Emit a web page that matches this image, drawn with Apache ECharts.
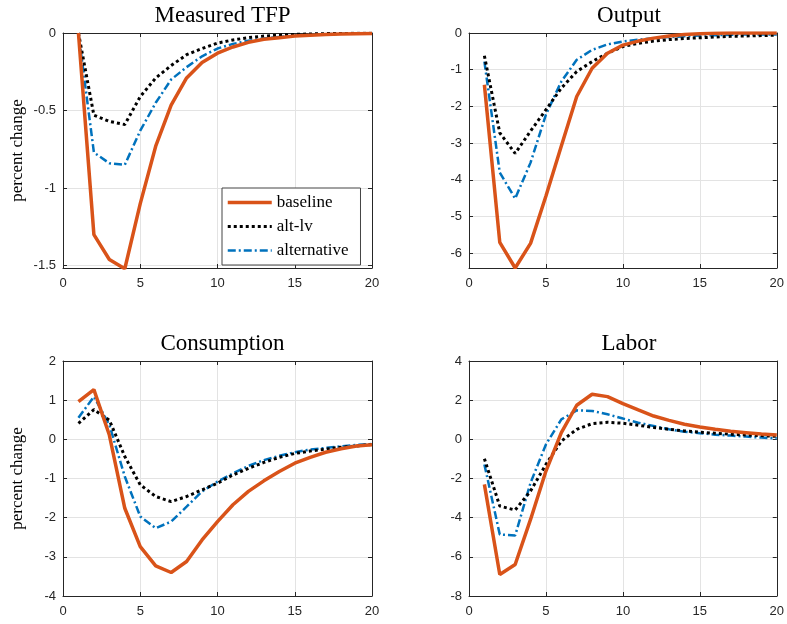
<!DOCTYPE html>
<html>
<head>
<meta charset="utf-8">
<script src="https://cdn.jsdelivr.net/npm/echarts@6/dist/echarts.min.js"></script>
<style>
  html, body { margin: 0; padding: 0; background: #fff; }
  #main { width: 787px; height: 624px; }
</style>
</head>
<body>
<div id="main"></div>
<script>
// periods after the shock
var steps = [1,2,3,4,5,6,7,8,9,10,11,12,13,14,15,16,17,18,19,20];
var seriesNames = ['baseline', 'alt-lv', 'alternative'];
var panelTitles = ['Measured TFP', 'Output', 'Consumption', 'Labor'];

// Measured TFP
var tfpBaseline = [0,-1.30,-1.46,-1.52,-1.10,-0.73,-0.465,-0.29,-0.19,-0.13,-0.09,-0.06,-0.04,-0.03,-0.02,-0.015,-0.01,-0.007,-0.005,-0.003];
var tfpAltLv    = [0,-0.53,-0.57,-0.59,-0.41,-0.29,-0.21,-0.14,-0.10,-0.065,-0.045,-0.03,-0.02,-0.013,-0.009,-0.006,-0.004,-0.003,-0.002,-0.001];
var tfpAlt      = [0,-0.77,-0.84,-0.85,-0.63,-0.45,-0.30,-0.22,-0.15,-0.10,-0.07,-0.05,-0.035,-0.025,-0.017,-0.012,-0.008,-0.005,-0.004,-0.003];
// Output
var outBaseline = [-1.41,-5.70,-6.40,-5.73,-4.44,-3.08,-1.73,-0.96,-0.55,-0.33,-0.22,-0.14,-0.08,-0.04,-0.02,-0.01,0,0,0,0];
var outAltLv    = [-0.62,-2.72,-3.28,-2.67,-2.09,-1.50,-1.05,-0.78,-0.55,-0.37,-0.28,-0.22,-0.18,-0.15,-0.13,-0.11,-0.09,-0.08,-0.07,-0.06];
var outAlt      = [-0.78,-3.80,-4.51,-3.53,-2.22,-1.32,-0.73,-0.46,-0.31,-0.23,-0.18,-0.14,-0.11,-0.09,-0.07,-0.06,-0.05,-0.04,-0.04,-0.04];
// Consumption
var conBaseline = [0.96,1.27,0.11,-1.76,-2.74,-3.23,-3.40,-3.12,-2.57,-2.10,-1.67,-1.33,-1.06,-0.82,-0.61,-0.46,-0.33,-0.24,-0.17,-0.14];
var conAltLv    = [0.41,0.76,0.49,-0.44,-1.16,-1.46,-1.59,-1.46,-1.29,-1.12,-0.91,-0.74,-0.59,-0.46,-0.36,-0.30,-0.25,-0.20,-0.17,-0.13];
var conAlt      = [0.55,1.09,0.37,-0.95,-1.97,-2.27,-2.10,-1.72,-1.33,-1.08,-0.87,-0.68,-0.53,-0.42,-0.33,-0.26,-0.22,-0.18,-0.14,-0.12];
// Labor
var labBaseline = [-2.30,-6.90,-6.39,-4.09,-1.62,0.34,1.74,2.30,2.18,1.82,1.50,1.19,0.97,0.77,0.63,0.51,0.41,0.34,0.27,0.22];
var labAltLv    = [-0.99,-3.41,-3.61,-2.64,-1.28,-0.09,0.51,0.80,0.87,0.82,0.72,0.61,0.51,0.43,0.36,0.31,0.26,0.22,0.19,0.15];
var labAlt      = [-1.28,-4.86,-4.91,-2.22,-0.26,1.02,1.48,1.45,1.28,1.06,0.85,0.68,0.51,0.39,0.31,0.24,0.19,0.14,0.09,0.05];

// tick labels
var tfpTicks = [-1.5,-1,-0.5,0];
var outTicks = [-6,-5,-4,-3,-2,-1,0];
var conTicks = [-4,-3,-2,-1,0,1,2];
var labTicks = [-8,-6,-4,-2,0,2,4];

var panelData = [
  [tfpBaseline, tfpAltLv, tfpAlt],
  [outBaseline, outAltLv, outAlt],
  [conBaseline, conAltLv, conAlt],
  [labBaseline, labAltLv, labAlt]
];
var panelTicks = [tfpTicks, outTicks, conTicks, labTicks];
var panelRange = [[-1.515, 0], [-6.4, 0], [-4, 2], [-8, 4]];

var grids = [
  {left: 63, top: 33, width: 309, height: 235},
  {left: 469, top: 33, width: 310, height: 235},
  {left: 63, top: 361, width: 309, height: 235},
  {left: 469, top: 361, width: 310, height: 235}
];

var axisColor = '#262626';
var gridColor = '#e3e3e3';
var tickFont = {color: axisColor, fontSize: 13, fontFamily: 'Liberation Sans'};
var serif = 'Liberation Serif';

var lineStyles = [
  {color: '#D95319', width: 3.5, type: 'solid'},
  {color: '#000000', width: 3, type: [3, 3]},
  {color: '#0072BD', width: 2.5, type: [8, 3, 2, 3]}
];

var xAxes = [], yAxes = [], series = [], titles = [];
for (var i = 0; i < 4; i++) {
  var g = grids[i];
  titles.push({
    text: panelTitles[i],
    left: g.left + g.width / 2,
    top: g.top - 34,
    textAlign: 'center',
    textStyle: {fontFamily: serif, fontWeight: 'normal', fontSize: 23, color: '#000'}
  });
  // bottom / top x axes
  xAxes.push({
    type: 'value', gridIndex: i, min: 0, max: 20, interval: 5, position: 'bottom',
    axisLine: {onZero: false, lineStyle: {color: axisColor}},
    axisTick: {inside: true, length: 4, lineStyle: {color: axisColor}},
    axisLabel: Object.assign({margin: 9}, tickFont),
    splitLine: {show: true, lineStyle: {color: gridColor}}
  });
  xAxes.push({
    type: 'value', gridIndex: i, min: 0, max: 20, interval: 5, position: 'top',
    axisLine: {onZero: false, lineStyle: {color: axisColor}},
    axisTick: {inside: true, length: 4, lineStyle: {color: axisColor}},
    axisLabel: {show: false}, splitLine: {show: false}
  });
  // left / right y axes
  var ticks = panelTicks[i];
  var yName = (i % 2 === 0) ? 'percent change' : '';
  yAxes.push({
    type: 'value', gridIndex: i, min: panelRange[i][0], max: panelRange[i][1], position: 'left',
    name: yName, nameLocation: 'middle', nameGap: 37,
    nameTextStyle: {fontFamily: serif, fontSize: 17, color: '#000'},
    axisLine: {onZero: false, lineStyle: {color: axisColor}},
    axisTick: {inside: true, length: 4, customValues: ticks, lineStyle: {color: axisColor}},
    axisLabel: Object.assign({margin: 7, customValues: ticks}, tickFont),
    splitLine: {show: true, lineStyle: {color: gridColor}}
  });
  yAxes.push({
    type: 'value', gridIndex: i, min: panelRange[i][0], max: panelRange[i][1], position: 'right',
    axisLine: {onZero: false, lineStyle: {color: axisColor}},
    axisTick: {inside: true, length: 4, customValues: ticks, lineStyle: {color: axisColor}},
    axisLabel: {show: false}, splitLine: {show: false}
  });
  for (var s = 0; s < 3; s++) {
    var vals = panelData[i][s];
    series.push({
      name: seriesNames[s],
      type: 'line',
      xAxisIndex: 2 * i,
      yAxisIndex: 2 * i,
      symbol: 'none',
      z: 10 - s,
      lineStyle: lineStyles[s],
      itemStyle: {color: lineStyles[s].color},
      data: steps.map(function (x, k) { return [x, vals[k]]; })
    });
  }
}

var chart = echarts.init(document.getElementById('main'));
chart.setOption({
  animation: false,
  backgroundColor: '#fff',
  title: titles,
  grid: grids,
  xAxis: xAxes,
  yAxis: yAxes,
  legend: {
    data: seriesNames,
    orient: 'vertical',
    left: 222, top: 188,
    itemWidth: 44, itemHeight: 14, itemGap: 7,
    padding: [6, 12, 6, 4],
    backgroundColor: '#fff',
    borderColor: '#444', borderWidth: 1,
    itemStyle: {opacity: 0},
    lineStyle: {width: 'inherit', type: 'inherit'},
    textStyle: {fontFamily: serif, fontSize: 17, color: '#000'}
  },
  series: series
});
</script>
</body>
</html>
